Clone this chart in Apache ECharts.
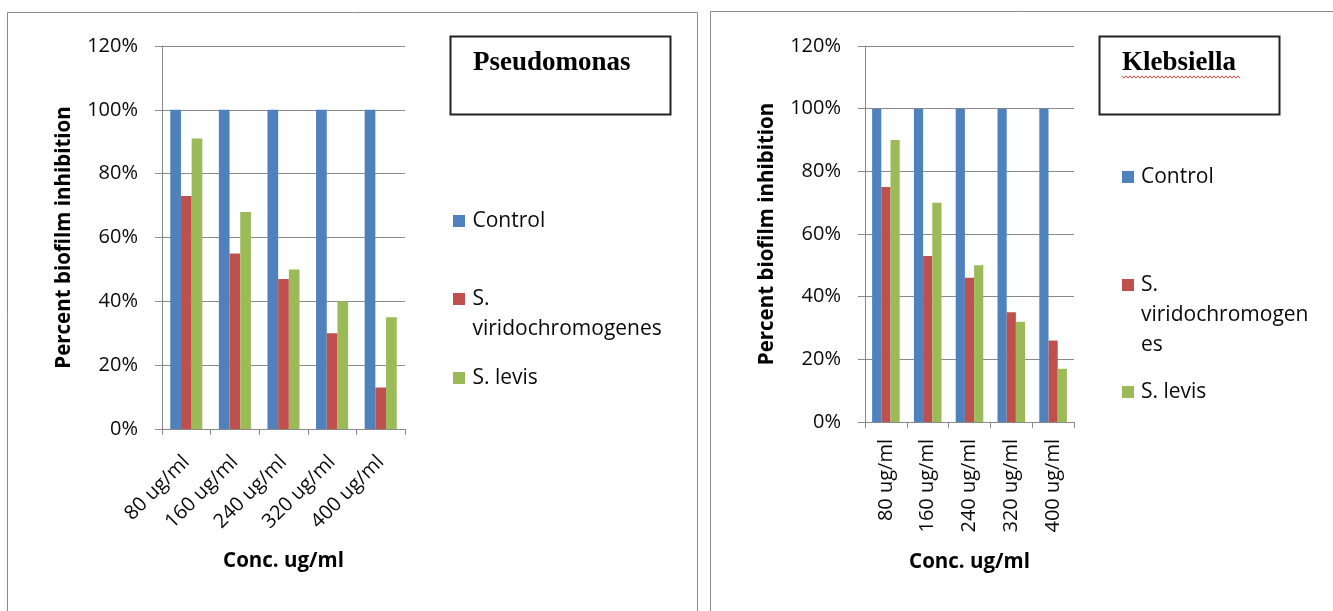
<!DOCTYPE html>
<html>
<head>
<meta charset="utf-8">
<script src="https://cdn.jsdelivr.net/npm/echarts@6/dist/echarts.min.js"></script>
<style>
  html, body { margin: 0; padding: 0; background: #ffffff; }
  #chart { width: 1333px; height: 611px; }
</style>
</head>
<body>
<div id="chart"></div>
<script>
// Concentrations tested
const categories = ['80 ug/ml', '160 ug/ml', '240 ug/ml', '320 ug/ml', '400 ug/ml'];
const seriesNames = ['Control', 'S. viridochromogenes', 'S. levis'];
const seriesColors = ['#4F81BD', '#C0504D', '#9BBB59'];

// Pseudomonas: percent biofilm inhibition
const pseudoControl = [100, 100, 100, 100, 100];
const pseudoViridochromogenes = [73, 55, 47, 30, 13];
const pseudoLevis = [91, 68, 50, 40, 35];

// Klebsiella: percent biofilm inhibition
const klebControl = [100, 100, 100, 100, 100];
const klebViridochromogenes = [75, 53, 46, 35, 26];
const klebLevis = [90, 70, 50, 32, 17];

// Value axis ticks (percent)
const yMin = 0, yMax = 120, yStep = 20;

const panelTitles = ['Pseudomonas', 'Klebsiella'];
const xAxisTitle = 'Conc. ug/ml';
const yAxisTitle = 'Percent biofilm inhibition';

const FONT = '"Open Sans", "DejaVu Sans", sans-serif';
const GRID_GRAY = '#8a8a8a';

function valueAxis(gridIndex) {
  return {
    type: 'value', gridIndex, min: yMin, max: yMax, interval: yStep,
    name: yAxisTitle, nameLocation: 'middle', nameGap: 87, nameRotate: 90,
    nameTextStyle: { fontFamily: FONT, fontWeight: 'bold', fontSize: 20.5, color: '#000' },
    axisLine: { show: true, lineStyle: { color: GRID_GRAY, width: 1 } },
    axisTick: { show: true, length: 7, lineStyle: { color: GRID_GRAY } },
    splitLine: { show: true, lineStyle: { color: GRID_GRAY, width: 1 } },
    axisLabel: { formatter: '{value}%', margin: 24, fontFamily: FONT, fontSize: 20, color: '#0a0a0a' }
  };
}

function categoryAxis(gridIndex, rotate, margin, nameGap) {
  return {
    type: 'category', gridIndex, data: categories,
    name: xAxisTitle, nameLocation: 'middle', nameGap,
    nameTextStyle: { fontFamily: FONT, fontWeight: 'bold', fontSize: 20.5, color: '#000' },
    axisLine: { show: true, lineStyle: { color: GRID_GRAY, width: 1 } },
    axisTick: { show: true, length: 6, lineStyle: { color: GRID_GRAY } },
    axisLabel: { rotate, margin, interval: 0, fontFamily: FONT, fontSize: 20, color: '#0a0a0a' }
  };
}

function barSeries(name, data, color, idx) {
  return {
    type: 'bar', name, data, xAxisIndex: idx, yAxisIndex: idx,
    barGap: '0%', barCategoryGap: '34%',
    itemStyle: { color }
  };
}

// Legend drawn as squares plus wrapped labels, one column per panel
function legendGraphics(squareX, textX, itemTops, wrapWidth) {
  const out = [];
  seriesNames.forEach((name, i) => {
    out.push({
      type: 'rect', silent: true,
      shape: { x: squareX, y: itemTops[i] + 9, width: 12, height: 12 },
      style: { fill: seriesColors[i] }
    });
    out.push({
      type: 'text', silent: true, x: textX, y: itemTops[i],
      style: {
        text: name, width: wrapWidth, overflow: 'break',
        font: '21px ' + FONT, lineHeight: 30, fill: '#0a0a0a',
        verticalAlign: 'top', align: 'left'
      }
    });
  });
  return out;
}

function titleBox(x, y, w, h, title, textX) {
  return [
    { type: 'rect', silent: true, shape: { x, y, width: w, height: h },
      style: { fill: '#fff', stroke: '#222', lineWidth: 2 } },
    { type: 'text', silent: true, x: textX, y: 63,
      style: { text: title, font: 'bold 27px "Liberation Serif", "Times New Roman", serif',
               fill: '#000', verticalAlign: 'middle', align: 'left' } }
  ];
}

// Red wavy spell-check underline below the second title
function wavyLine(x0, x1, y) {
  const pts = [];
  for (let x = x0, k = 0; x <= x1; x += 2, k++) {
    pts.push([x, y + (k % 2 === 0 ? -1.2 : 1.2)]);
  }
  return { type: 'polyline', silent: true, shape: { points: pts },
           style: { stroke: '#e0504a', lineWidth: 1, fill: null } };
}

const graphics = [
  // panel frames
  { type: 'rect', silent: true, shape: { x: 7.5, y: 12.5, width: 690, height: 700 },
    style: { fill: null, stroke: '#8c8c8c', lineWidth: 1 } },
  { type: 'rect', silent: true, shape: { x: 710.5, y: 11.5, width: 700, height: 700 },
    style: { fill: null, stroke: '#8c8c8c', lineWidth: 1 } },
  ...titleBox(450.5, 36.5, 220, 78, panelTitles[0], 473),
  ...titleBox(1099.5, 36.5, 180, 78, panelTitles[1], 1122),
  wavyLine(1122, 1240, 77),
  ...legendGraphics(453, 472.5, [206, 284, 363], 205),
  ...legendGraphics(1122, 1141, [162, 270, 377], 172)
];

const option = {
  animation: false,
  backgroundColor: '#ffffff',
  grid: [
    { left: 162, top: 46, width: 243, height: 383 },
    { left: 865, top: 46, width: 209, height: 376 }
  ],
  xAxis: [categoryAxis(0, 45, 30, 122), categoryAxis(1, 90, 17, 130)],
  yAxis: [valueAxis(0), valueAxis(1)],
  series: [
    barSeries(seriesNames[0], pseudoControl, seriesColors[0], 0),
    barSeries(seriesNames[1], pseudoViridochromogenes, seriesColors[1], 0),
    barSeries(seriesNames[2], pseudoLevis, seriesColors[2], 0),
    barSeries(seriesNames[0], klebControl, seriesColors[0], 1),
    barSeries(seriesNames[1], klebViridochromogenes, seriesColors[1], 1),
    barSeries(seriesNames[2], klebLevis, seriesColors[2], 1)
  ],
  graphic: graphics
};

const chart = echarts.init(document.getElementById('chart'), null, { renderer: 'canvas' });
chart.setOption(option);
</script>
</body>
</html>
